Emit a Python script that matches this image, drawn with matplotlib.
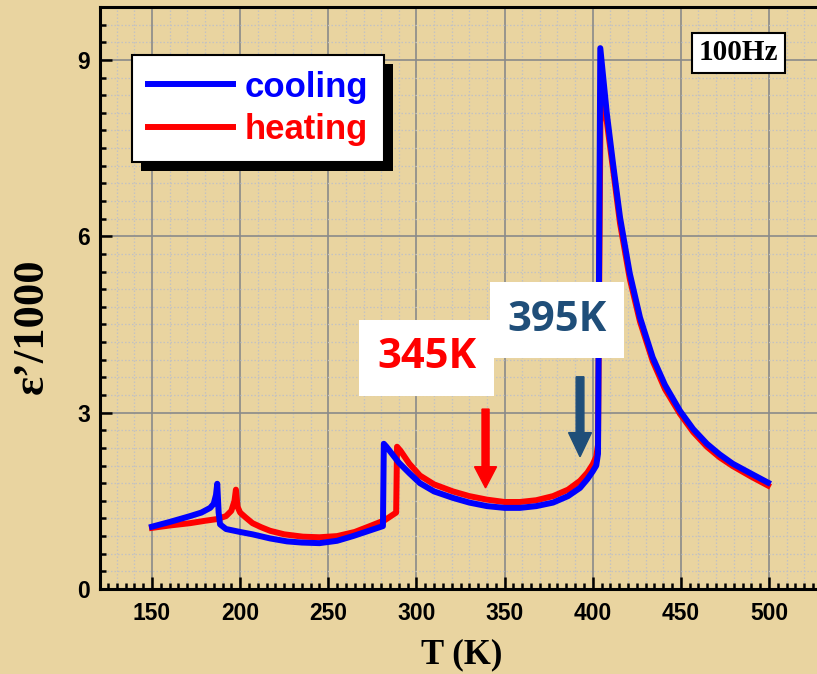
import matplotlib
matplotlib.use("Agg")
import matplotlib.pyplot as plt
from matplotlib.ticker import MultipleLocator
from matplotlib.patches import Rectangle
import numpy as np

# ---------------- data ----------------
cool_T = [150, 160, 171.6, 178, 183, 185, 186.3, 187, 187.8, 188.6, 192, 200, 207, 217, 226.6,
          235, 245, 255, 264, 272, 281, 281.5, 283, 290, 296, 302, 310, 320.7, 330, 340, 350,
          358.7, 368, 377.5, 386, 392.8, 397, 400, 402, 403, 404.3, 408, 411.5, 415.5, 421,
          426.8, 434, 441, 449.5, 457, 464.8, 472, 479.5, 490, 499.4]
cool_E = [1.06, 1.14, 1.24, 1.30, 1.38, 1.45, 1.60, 1.79, 1.30, 1.10, 1.02, 0.97, 0.93, 0.86, 0.81,
          0.79, 0.78, 0.82, 0.90, 0.98, 1.07, 2.47, 2.42, 2.15, 1.97, 1.80, 1.66, 1.55, 1.47, 1.41, 1.38,
          1.38, 1.41, 1.47, 1.58, 1.72, 1.87, 2.00, 2.10, 2.30, 9.20, 8.09, 7.24, 6.32, 5.37,
          4.62, 3.94, 3.47, 3.03, 2.72, 2.47, 2.29, 2.13, 1.96, 1.81]

heat_T = [150, 160, 171.6, 180, 187, 192, 195, 196.8, 197.6, 198.5, 200, 203, 207, 212, 217,
          225, 235.6, 245, 255, 265, 273.6, 282, 288.5, 289, 291, 296, 302, 310, 320.7, 330,
          340, 350, 358.7, 368, 377.5, 386, 392.8, 397, 400, 402, 403, 404.5, 408, 411.5, 415.5,
          421, 426.8, 434, 441, 449.5, 457, 464.8, 472, 479.5, 490, 499.4]
heat_E = [1.04, 1.08, 1.12, 1.16, 1.19, 1.24, 1.33, 1.50, 1.69, 1.40, 1.30, 1.22, 1.12, 1.05, 0.99,
          0.93, 0.89, 0.88, 0.90, 0.97, 1.07, 1.17, 1.30, 2.42, 2.35, 2.13, 1.93, 1.78, 1.66, 1.58,
          1.52, 1.48, 1.48, 1.51, 1.58, 1.69, 1.84, 1.98, 2.12, 2.25, 2.45, 8.43, 7.95, 7.15, 6.22,
          5.28, 4.55, 3.88, 3.40, 2.98, 2.67, 2.42, 2.24, 2.09, 1.91, 1.76]

series_labels = ["cooling", "heating"]
x_ticks = [150, 200, 250, 300, 350, 400, 450, 500]
y_ticks = [0, 3, 6, 9]

# annotation values (temperatures marked)
mark_labels = ["345K", "395K"]

# ---------------- style ----------------
BG = "#e9d4a0"
SANS = "Liberation Sans"
SERIF = "Liberation Serif"

W, H = 817, 674
fig = plt.figure(figsize=(W / 100, H / 100), dpi=100)
fig.patch.set_facecolor(BG)
ax_l, ax_r, ax_t, ax_b = 100, 821, 7, 589
ax = fig.add_axes([ax_l / W, 1 - ax_b / H, (ax_r - ax_l) / W, (ax_b - ax_t) / H])
ax.set_facecolor(BG)

ax.set_xlim(120.5, 529.5)
ax.set_ylim(0, 9.9)

# grid
ax.set_axisbelow(True)
ax.xaxis.set_major_locator(MultipleLocator(50))
ax.xaxis.set_minor_locator(MultipleLocator(5))
ax.yaxis.set_major_locator(MultipleLocator(3))
ax.yaxis.set_minor_locator(MultipleLocator(0.3))
ax.grid(which="major", color="#8a8a8a", lw=1.2, ls="-")
ax.grid(which="minor", axis="y", color="#c2c2c2", lw=0.9, ls=(0, (1.2, 1.6)))
for v in np.arange(130, 530, 10):
    if v % 50:
        ax.axvline(v, color="#c2c2c2", lw=0.9, ls=(0, (1.2, 1.6)), zorder=0.5)

# curves
red, = ax.plot(heat_T, heat_E, color="#ff0000", lw=4.3, solid_joinstyle="round", zorder=3,
               label=series_labels[1])
blue, = ax.plot(cool_T, cool_E, color="#0000ff", lw=4.3, solid_joinstyle="round", zorder=3.1,
                label=series_labels[0])

# spines / ticks
for s in ["left", "bottom", "top"]:
    ax.spines[s].set_linewidth(2.2)
    ax.spines[s].set_color("black")
ax.spines["right"].set_visible(False)
ax.tick_params(which="both", direction="in", color="black", width=1.8, top=False, right=False)
ax.tick_params(which="major", length=8.5)
ax.tick_params(which="minor", length=4.5)
ax.tick_params(axis="x", which="major", pad=9)
ax.tick_params(axis="y", which="major", pad=7)
ax.set_xticks(x_ticks)
ax.set_yticks(y_ticks)
for lab in ax.get_xticklabels() + ax.get_yticklabels():
    lab.set_fontfamily(SANS)
    lab.set_fontweight("bold")
    lab.set_fontsize(16.5)

# axis labels
ax.set_xlabel("T (K)", family=SERIF, weight="bold", size=25, va="center")
ax.xaxis.set_label_coords((462 - ax_l) / (ax_r - ax_l), 1 - (655 - ax_t) / (ax_b - ax_t))
ax.set_ylabel("\u03b5\u2019/1000", family=SERIF, weight="bold", size=32, va="center")
ax.yaxis.set_label_coords((32 - ax_l) / (ax_r - ax_l), 1 - (326 - ax_t) / (ax_b - ax_t))

# legend
leg = ax.legend(handles=[blue, red], loc="upper left",
                bbox_to_anchor=((132 - ax_l) / (ax_r - ax_l), 1 - (55 - ax_t) / (ax_b - ax_t)),
                borderaxespad=0, prop=dict(family=SANS, weight="bold", size=25),
                labelcolor="linecolor", handlelength=2.45, handletextpad=0.35,
                labelspacing=0.28, borderpad=0.45, frameon=True, fancybox=False,
                edgecolor="black", facecolor="white", framealpha=1)
leg.get_frame().set_linewidth(1.5)
leg.set_zorder(6)

# frequency box
ax.text((738.5 - ax_l) / (ax_r - ax_l), 1 - (53 - ax_t) / (ax_b - ax_t), "100Hz",
        transform=ax.transAxes, ha="center", va="center", family=SERIF, weight="bold",
        size=21, zorder=6,
        bbox=dict(boxstyle="square,pad=0.22", fc="white", ec="black", lw=1.5))

# annotations: labels with white boxes and arrows
ax.text(305.7, 3.93, mark_labels[0], ha="center", va="center", family="Open Sans",
        weight="bold", size=30, color="#ff0000", zorder=5,
        bbox=dict(boxstyle="square,pad=0.42", fc="white", ec="none"))
ax.text(379.7, 4.57, mark_labels[1], ha="center", va="center", family="Open Sans",
        weight="bold", size=30, color="#1f4e79", zorder=5.1,
        bbox=dict(boxstyle="square,pad=0.42", fc="white", ec="none"))
ax.arrow(339.2, 3.06, 0, 1.72 - 3.06, width=4.0, head_width=12.5, head_length=0.36,
         length_includes_head=True, color="#ff0000", zorder=4)
ax.arrow(392.8, 3.61, 0, 2.25 - 3.61, width=4.4, head_width=13.0, head_length=0.41,
         length_includes_head=True, color="#1f4e79", zorder=4)

# legend shadow
fig.canvas.draw()
bb = leg.get_window_extent()
sh = Rectangle((bb.x0 + 9, bb.y0 - 9), bb.width, bb.height, transform=None,
               facecolor="black", edgecolor="none", zorder=5.9)
sh.set_clip_on(False)
ax.add_artist(sh)

fig.savefig("out.png", dpi=100, facecolor=BG)
